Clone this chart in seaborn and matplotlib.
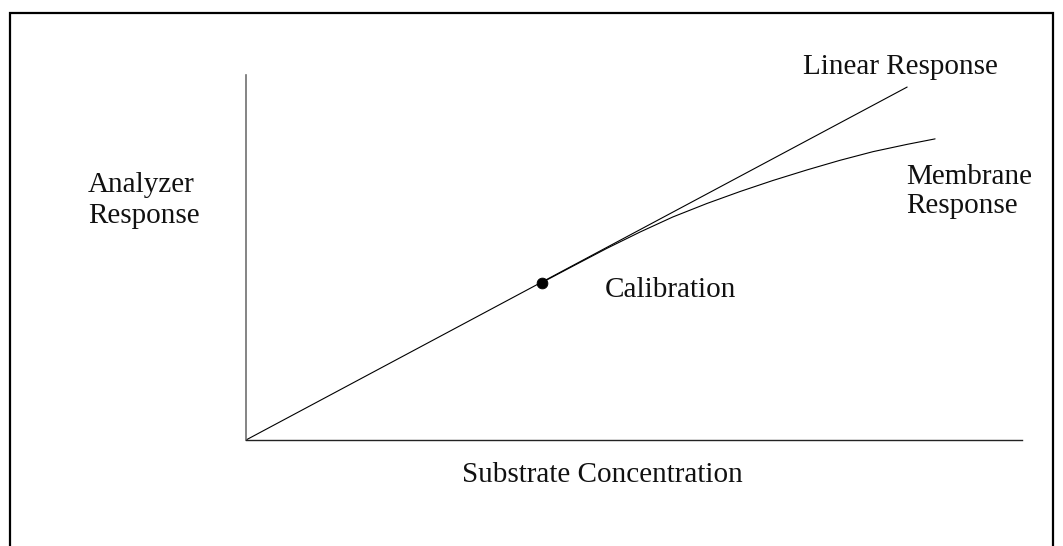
import numpy as np
import pandas as pd
import matplotlib
matplotlib.use("Agg")
import matplotlib.pyplot as plt
from matplotlib.patches import Rectangle
import seaborn as sns

# values (arbitrary concentration / response units)
linear_conc = [0.0, 8.52]
linear_resp = [0.0, 9.67]

membrane_conc = [3.81, 4.21, 4.65, 5.08, 5.50, 5.94, 6.37, 6.79, 7.23, 7.65, 8.08, 8.52, 8.88]
membrane_resp = [4.31, 4.76, 5.25, 5.70, 6.11, 6.48, 6.81, 7.11, 7.40, 7.66, 7.90, 8.10, 8.25]

calib_conc = [3.81]
calib_resp = [4.30]

W, H = 1063, 546

sns.set_theme(style="white")
plt.rcParams['font.family'] = ['Liberation Serif', 'DejaVu Serif']

fig = plt.figure(figsize=(W / 100, H / 100), dpi=100)

# axes box in pixels: origin (246, 440), x end 1022, y top 75
ax = fig.add_axes([246 / W, (H - 440) / H, (1022 - 246) / W, (440 - 75) / H])
ax.set_xlim(0, 10)
ax.set_ylim(0, 10)
ax.patch.set_alpha(0)

lin = pd.DataFrame({"conc": linear_conc, "resp": linear_resp})
mem = pd.DataFrame({"conc": membrane_conc, "resp": membrane_resp})
cal = pd.DataFrame({"conc": calib_conc, "resp": calib_resp})

sns.lineplot(data=lin, x="conc", y="resp", color="black", linewidth=0.8, ax=ax)
sns.lineplot(data=mem, x="conc", y="resp", color="black", linewidth=0.8, ax=ax)
sns.scatterplot(data=cal, x="conc", y="resp", color="black", s=60,
                edgecolor="black", zorder=5, ax=ax)

ax.set_xlabel("")
ax.set_ylabel("")
ax.set_xticks([])
ax.set_yticks([])
for side in ["top", "right"]:
    ax.spines[side].set_visible(False)
ax.spines["left"].set_color("#707070")
ax.spines["left"].set_linewidth(1.2)
ax.spines["bottom"].set_color("#222222")
ax.spines["bottom"].set_linewidth(1.0)


def px(x, y):
    return x / W, 1 - y / H


fs = 21
labels = [
    ("Linear Response", 803, 74),
    ("Membrane", 906, 184),
    ("Response", 906, 213),
    ("Analyzer", 88, 192),
    ("Response", 88, 223),
    ("Calibration", 605, 297),
    ("Substrate Concentration", 462, 482),
]
for txt, x, y in labels:
    fx, fy = px(x, y)
    fig.text(fx, fy, txt, fontsize=fs, ha="left", va="baseline", color="#111111")

# outer frame, bottom edge runs past the image
fx0, fy1 = px(9.5, 12.5)
fx1, _ = px(1053, 0)
fig.patches.append(Rectangle((fx0, -0.05), fx1 - fx0, fy1 + 0.05,
                             transform=fig.transFigure, fill=False,
                             edgecolor="black", linewidth=1.6))

fig.savefig("out.png", dpi=100)
